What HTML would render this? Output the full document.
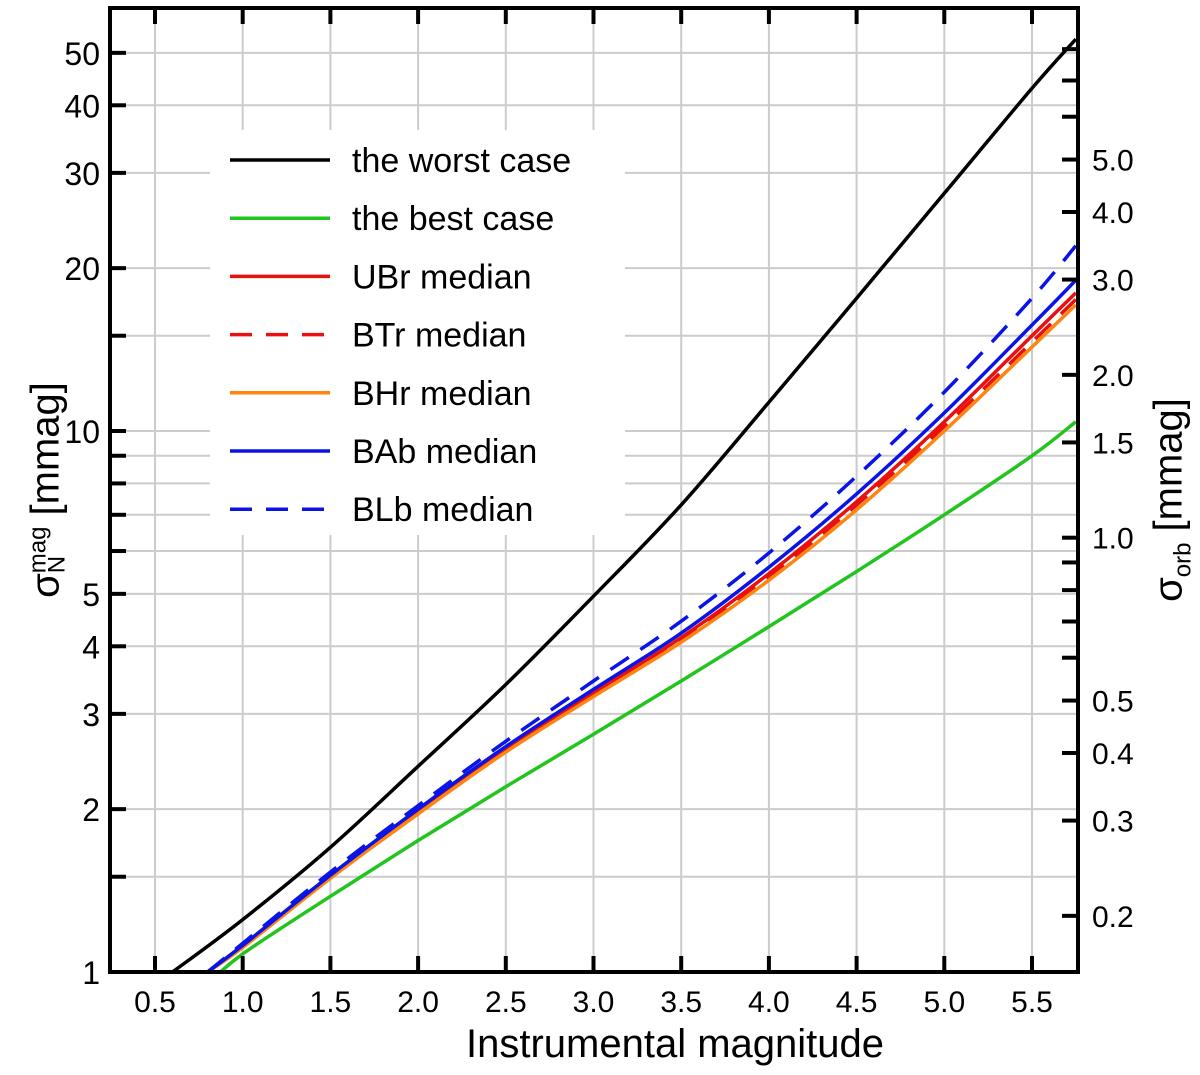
<!DOCTYPE html>
<html><head><meta charset="utf-8"><style>
body{margin:0;background:#fff}
svg{display:block;font-family:"Liberation Sans",sans-serif}
</style></head><body>
<svg id="chart" width="1200" height="1075" viewBox="0 0 1200 1075" xmlns="http://www.w3.org/2000/svg"></svg>
<script>
const mags=[0.6,1.0,1.5,2.0,2.5,3.0,3.5,4.0,4.5,5.0,5.5,5.75];
const worst=[1.0,1.25,1.7,2.4,3.4,4.95,7.3,11.3,17.6,27.5,43.0,53];
const magsB=[0.8,1.0,1.5,2.0,2.5,3.0,3.5,4.0,4.5,5.0,5.5,5.75];
const best=[0.95,1.08,1.38,1.75,2.2,2.75,3.45,4.35,5.5,7.0,9.0,10.4];
const ubr=[1.0,1.12,1.5,1.98,2.58,3.28,4.15,5.45,7.4,10.4,15.0,18.0];
const btr=[1.0,1.12,1.5,1.98,2.57,3.26,4.12,5.38,7.3,10.2,14.6,17.5];
const bhr=[1.0,1.11,1.49,1.96,2.55,3.23,4.07,5.3,7.15,10.0,14.3,17.1];
const bab=[1.0,1.12,1.51,2.0,2.61,3.33,4.23,5.6,7.65,10.8,15.7,19.0];
const blb=[1.0,1.13,1.53,2.03,2.67,3.45,4.45,5.95,8.25,11.8,17.6,22.0];
const xTicks=[0.5,1.0,1.5,2.0,2.5,3.0,3.5,4.0,4.5,5.0,5.5];
const yMajor=[1,2,3,4,5,10,20,30,40,50];
const yMinor=[1.5,6,7,8,9,15];
const rMajor=[0.2,0.3,0.4,0.5,1.0,1.5,2.0,3.0,4.0,5.0];
const rMinor=[0.6,0.7,0.8,0.9,6,7,8];
const orbFactor=6.35;
const L=110,R=1078,T=8,B=972;
const X=m=>155+(m-0.5)*175.4;
const Y=v=>972-541*Math.log10(v);
const svg=document.getElementById('chart');
const NS='http://www.w3.org/2000/svg';
function mk(tag,attrs,parent){const e=document.createElementNS(NS,tag);for(const k in attrs)e.setAttribute(k,attrs[k]);(parent||svg).appendChild(e);return e;}
function smooth(pts){
 let d='M'+pts[0][0].toFixed(1)+','+pts[0][1].toFixed(1);
 for(let i=0;i<pts.length-1;i++){
  const p0=pts[i-1]||pts[i],p1=pts[i],p2=pts[i+1],p3=pts[i+2]||p2;
  const c1=[p1[0]+(p2[0]-p0[0])/6,p1[1]+(p2[1]-p0[1])/6];
  const c2=[p2[0]-(p3[0]-p1[0])/6,p2[1]-(p3[1]-p1[1])/6];
  d+=' C'+c1.map(v=>v.toFixed(1))+' '+c2.map(v=>v.toFixed(1))+' '+p2.map(v=>v.toFixed(1));
 }
 return d;
}
const grid=mk('g',{});


xTicks.forEach(t=>{mk('line',{x1:X(t),x2:X(t),y1:T,y2:B,stroke:'#cccccc','stroke-width':2},grid);});
yMajor.concat(yMinor).forEach(v=>{mk('line',{x1:L,x2:R,y1:Y(v),y2:Y(v),stroke:'#cccccc','stroke-width':2},grid);});
const lb=mk('rect',{x:210,y:130,width:415,height:405,fill:'#fff'});


const series=[
 {n:'the worst case',xs:mags,v:worst,c:'#000000',d:''},
 {n:'the best case',xs:magsB,v:best,c:'#22c41e',d:''},
 {n:'UBr median',xs:magsB,v:ubr,c:'#e8110f',d:''},
 {n:'BTr median',xs:magsB,v:btr,c:'#e8110f',d:'22,14'},
 {n:'BHr median',xs:magsB,v:bhr,c:'#ff8410',d:''},
 {n:'BAb median',xs:magsB,v:bab,c:'#0a14e6',d:''},
 {n:'BLb median',xs:magsB,v:blb,c:'#0a14e6',d:'22,14'}];
const clip=mk('clipPath',{id:'pc'});mk('rect',{x:L,y:T,width:R-L,height:B-T},clip);
series.forEach((s,i)=>{
 const pts=s.xs.map((m,j)=>[X(m),Y(s.v[j])]);
 const pl=mk('path',{d:smooth(pts),fill:'none',stroke:s.c,'stroke-width':3.5,'stroke-dasharray':s.d,'clip-path':'url(#pc)'});
 
 
 const ly=160+i*58.2;
 const g=mk('g',{});
 
 
 mk('line',{x1:230,x2:330,y1:ly,y2:ly,stroke:s.c,'stroke-width':3.5,'stroke-dasharray':s.d},g);
 const t=mk('text',{x:352,y:ly+12,'font-size':34},g);t.textContent=s.n;
});
const ax=mk('g',{});


mk('rect',{x:L,y:T,width:R-L,height:B-T,fill:'none',stroke:'#000','stroke-width':4},ax);
xTicks.forEach(t=>{
 mk('line',{x1:X(t),x2:X(t),y1:B,y2:B-16,stroke:'#000','stroke-width':4},ax);
 mk('line',{x1:X(t),x2:X(t),y1:T,y2:T+16,stroke:'#000','stroke-width':4},ax);
 const tx=mk('text',{x:X(t),y:1012,'font-size':30,'text-anchor':'middle'},ax);tx.textContent=t.toFixed(1);
});
yMajor.forEach(v=>{
 mk('line',{x1:L,x2:L+16,y1:Y(v),y2:Y(v),stroke:'#000','stroke-width':4},ax);
 const tx=mk('text',{x:L-10,y:Y(v)+12,'font-size':32,'text-anchor':'end'},ax);tx.textContent=v;
});
yMinor.forEach(v=>{mk('line',{x1:L,x2:L+16,y1:Y(v),y2:Y(v),stroke:'#000','stroke-width':4},ax);});
rMajor.forEach(v=>{
 const y=Y(v*orbFactor);
 mk('line',{x1:R-16,x2:R,y1:y,y2:y,stroke:'#000','stroke-width':4},ax);
 const tx=mk('text',{x:1092,y:y+11,'font-size':30},ax);tx.textContent=v.toFixed(1);
});
rMinor.forEach(v=>{const y=Y(v*orbFactor);mk('line',{x1:R-16,x2:R,y1:y,y2:y,stroke:'#000','stroke-width':4},ax);});
</script>
<div style="position:absolute;left:0;top:1022px;width:1200px;padding-left:150px;box-sizing:border-box;text-align:center;font:40px 'Liberation Sans',sans-serif;">Instrumental magnitude</div>
<div style="position:absolute;left:46px;top:490px;transform:translate(-50%,-50%) rotate(-90deg);white-space:nowrap;font:40px 'Liberation Sans',sans-serif;">σ<span style="display:inline-block;vertical-align:middle;line-height:0.8;font-size:24px;text-align:left"><span style="display:block">mag</span><span style="display:block">N</span></span> [mmag]</div>
<div style="position:absolute;left:1172px;top:500px;transform:translate(-50%,-50%) rotate(-90deg);white-space:nowrap;font:40px 'Liberation Sans',sans-serif;">σ<sub style="font-size:24px">orb</sub> [mmag]</div>
</body></html>
